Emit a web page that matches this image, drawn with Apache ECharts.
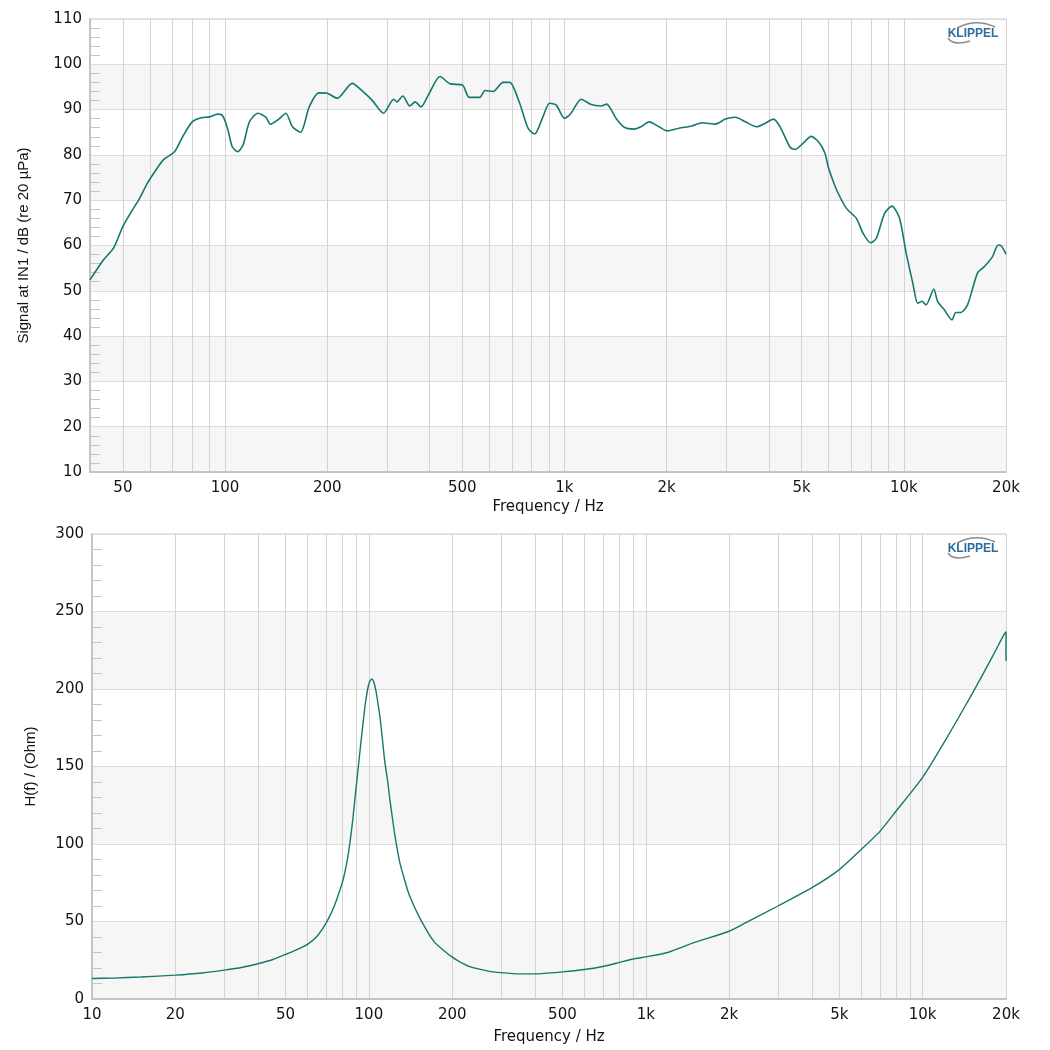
<!DOCTYPE html>
<html>
<head>
<meta charset="utf-8">
<script src="https://cdn.jsdelivr.net/npm/echarts@6/dist/echarts.min.js"></script>
<style>
  html, body { margin: 0; padding: 0; background: #fff; }
  #chart { width: 1050px; height: 1050px; }
</style>
</head>
<body>
<div id="chart"></div>
<script>
// top: sound pressure response
var splFreq = [40, 43.8, 46.9, 50, 53, 56, 59, 63, 66, 71, 75, 80, 85, 90, 95, 98.5, 102, 105, 109, 113,
  118, 125, 132, 136, 144, 151, 158, 167, 177, 189, 200, 214, 237, 253, 271, 293, 314, 321, 334, 350,
  363, 378, 397, 430, 460, 501, 524, 563, 583, 616, 659, 690, 738, 781, 817, 864, 904, 946, 1000, 1046,
  1120, 1200, 1281, 1331, 1418, 1500, 1604, 1679, 1776, 1900, 2009, 2174, 2378, 2544, 2786, 2980, 3188, 3411, 3689, 3903,
  4128, 4319, 4620, 4778, 5055, 5330, 5620, 5853, 5986, 6121, 6332, 6774, 7247, 7583, 7986, 8298, 8777, 9222, 9712, 10160,
  10627, 10993, 11290, 11630, 12250, 12583, 13163, 13855, 14237, 14726, 15405, 16482, 17244, 18239, 18955, 19384, 20000]
var splDb = [52.4, 56.8, 59.4, 64.2, 67.5, 70.4, 73.7, 77.0, 79.0, 80.7, 84.0, 87.3, 88.2, 88.4, 89.0, 88.6, 85.5, 81.8, 80.7, 82.2,
  87.3, 89.2, 88.3, 86.8, 87.9, 89.2, 86.2, 85.0, 90.6, 93.7, 93.6, 92.5, 95.8, 94.2, 92.1, 89.2, 92.3, 91.7, 93.0, 90.8,
  91.7, 90.6, 93.2, 97.3, 95.7, 95.4, 92.7, 92.7, 94.2, 94.0, 96.0, 96.0, 91.4, 85.9, 84.6, 88.4, 91.4, 91.0, 88.1, 89.2,
  92.3, 91.1, 90.8, 91.2, 88.1, 86.1, 85.7, 86.2, 87.3, 86.2, 85.3, 85.9, 86.4, 87.1, 86.8, 87.9, 88.3, 87.3, 86.2, 87.0,
  87.9, 86.2, 81.7, 81.2, 82.6, 84.1, 82.8, 80.4, 77.4, 75.2, 72.3, 68.2, 66.0, 62.7, 60.6, 61.6, 67.1, 68.7, 66.0, 58.3,
  51.7, 47.2, 47.7, 46.9, 50.4, 47.6, 45.8, 43.6, 45.2, 45.2, 46.9, 53.9, 55.3, 57.5, 60.1, 59.9, 58.1]

// bottom: impedance
var impFreq = [10, 12, 15, 20, 25, 30, 35, 40, 45, 50, 55, 60, 65, 69, 72, 75, 78, 81, 84, 87, 89,
  91, 93, 95, 97, 99, 100.5, 102.5, 104, 106, 108, 110, 112, 114, 117, 119, 122, 124, 129, 135, 140,
  152, 172, 200, 230, 270, 300, 350, 400, 500, 600, 700, 800, 900, 1000, 1200, 1500, 2000, 2300, 3000, 4000,
  5000, 6000, 7000, 8000, 10000, 12000, 15000, 18000, 19500, 20000, 20000]
var impOhm = [13.2, 13.5, 14.2, 15.4, 16.8, 18.6, 20.5, 22.9, 25.5, 28.7, 31.8, 35.2, 40.5, 47, 53, 60, 68.5, 78, 92, 112, 129,
  145, 161, 176, 190, 200, 204.5, 206.5, 205, 199, 190, 180, 167, 154, 140, 129, 115, 106, 89, 76, 67,
  53, 37, 27, 21, 18, 17, 16.2, 16.2, 17.5, 19, 21, 23.5, 25.8, 27.2, 30, 36.5, 43.7, 49.2, 60, 72,
  83.5, 96.5, 108, 121, 143, 166, 196, 222, 234, 237, 218]

var splLabels = [50, 100, 200, 500, 1000, 2000, 5000, 10000, 20000]
var impLabels = [10, 20, 50, 100, 200, 500, 1000, 2000, 5000, 10000, 20000]
var gridFreqs = []
for (var d = 10; d <= 10000; d *= 10) {
  for (var m = 1; m <= 9; m++) gridFreqs.push(d * m)
}
gridFreqs.push(20000)

var lineColor = '#15786d'
var txt = '#141414'
var font = 'DejaVu Sans'

function lg(v) { return Math.log10(v) }
function pairs(fs, vs) {
  var out = []
  for (var i = 0; i < fs.length; i++) out.push([lg(fs[i]), vs[i]])
  return out
}
function fmtHz(v) {
  var f = Math.round(Math.pow(10, v))
  return f >= 1000 ? (f / 1000) + 'k' : String(f)
}

function xAxisOf(idx, minF, labels) {
  return {
    type: 'value', gridIndex: idx,
    min: lg(minF), max: lg(20000),
    name: 'Frequency / Hz', nameLocation: 'middle', nameGap: idx ? 31 : 28,
    nameTextStyle: { fontFamily: font, fontSize: 15, color: txt },
    axisLine: { onZero: false, lineStyle: { color: '#c4c4c4', width: 2 } },
    axisTick: { show: false, customValues: gridFreqs.filter(function (f) { return f >= minF }).map(lg) },
    axisLabel: {
      customValues: labels.map(lg), formatter: fmtHz, margin: 9,
      fontFamily: font, fontSize: 15, color: txt
    },
    splitLine: { show: true, lineStyle: { color: '#d3d3d3', width: 1 } }
  }
}

function yAxisOf(idx, min, max, step, name, gap) {
  return {
    type: 'value', gridIndex: idx, min: min, max: max, interval: step,
    name: name, nameLocation: 'middle', nameGap: gap,
    nameTextStyle: { fontFamily: 'Liberation Sans', fontSize: 15, color: txt },
    axisLine: { show: true, lineStyle: { color: '#c4c4c4', width: 2 } },
    axisTick: { show: false, inside: true },
    minorTick: { show: true, splitNumber: 5, length: 10, lineStyle: { color: '#c4c4c4' } },
    axisLabel: { margin: 8, fontFamily: font, fontSize: 15, color: txt },
    splitLine: { show: true, lineStyle: { color: '#dcdcdc' } },
    splitArea: { show: true, areaStyle: { color: ['#f6f6f6', '#ffffff'] } }
  }
}

function logo(dy) {
  return [
    { type: 'text', x: 973, y: 34 + dy, z: 100, style: {
        text: 'KLIPPEL', fill: '#2d6d9e', font: 'bold 12px "Liberation Sans"',
        align: 'center', verticalAlign: 'middle', textAlign: 'center', textVerticalAlign: 'middle' } },
    { type: 'bezierCurve', z: 100, shape: { x1: 957, y1: 28 + dy, cpx1: 976, cpy1: 18 + dy, x2: 995, y2: 27 + dy },
      style: { stroke: '#8c8c8c', lineWidth: 1.5, fill: null } },
    { type: 'bezierCurve', z: 100, shape: { x1: 948, y1: 38 + dy, cpx1: 953, cpy1: 46 + dy, x2: 970, y2: 41 + dy },
      style: { stroke: '#8c8c8c', lineWidth: 1.5, fill: null } }
  ]
}

var chart = echarts.init(document.getElementById('chart'))
chart.setOption({
  animation: false,
  backgroundColor: '#fff',
  grid: [
    { left: 90, top: 19, width: 916, height: 453, show: true, borderColor: '#c8c8c8', backgroundColor: 'transparent' },
    { left: 92, top: 534, width: 914, height: 465, show: true, borderColor: '#c8c8c8', backgroundColor: 'transparent' }
  ],
  xAxis: [xAxisOf(0, 40, splLabels), xAxisOf(1, 10, impLabels)],
  yAxis: [
    yAxisOf(0, 10, 110, 10, 'Signal at IN1 / dB (re 20 µPa)', 59),
    yAxisOf(1, 0, 300, 50, 'H(f) / (Ohm)', 54)
  ],
  graphic: { elements: logo(0).concat(logo(515)) },
  series: [
    { type: 'line', xAxisIndex: 0, yAxisIndex: 0, data: pairs(splFreq, splDb),
      showSymbol: false, smooth: 0.25, lineStyle: { color: lineColor, width: 1.6 }, z: 3 },
    { type: 'line', xAxisIndex: 1, yAxisIndex: 1, data: pairs(impFreq, impOhm),
      showSymbol: false, smooth: 0.2, lineStyle: { color: lineColor, width: 1.4 }, z: 3 }
  ]
})
</script>
</body>
</html>
